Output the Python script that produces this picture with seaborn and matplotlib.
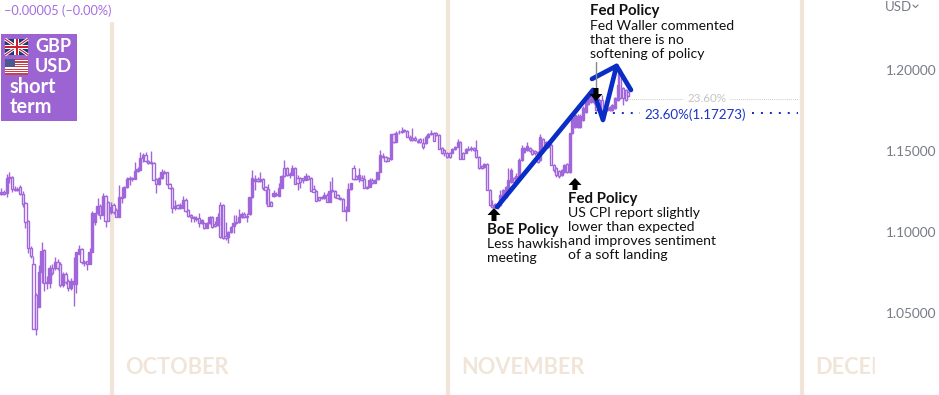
import pandas as pd
import seaborn as sns
import matplotlib
matplotlib.use('Agg')
import matplotlib.pyplot as plt
from matplotlib.patches import Polygon, Rectangle

opens = [1.1229,1.1241,1.1235,1.1328,1.1334,1.1260,1.1254,1.1272,1.1229,1.1174,
1.1063,1.0896,1.0797,1.0606,1.0532,1.0748,1.0884,1.0680,1.0680,1.0772,
1.0772,1.0809,1.0797,1.0668,1.0735,1.0692,1.0649,1.0674,1.0674,1.0859,
1.0890,1.0809,1.0816,1.0797,1.0871,1.1056,1.1112,1.1155,1.1100,1.1217,
1.1180,1.1118,1.1161,1.1130,1.1087,1.1211,1.1211,1.1272,1.1322,1.1322,
1.1322,1.1371,1.1377,1.1451,1.1470,1.1433,1.1426,1.1420,1.1322,1.1291,
1.1328,1.1365,1.1365,1.1291,1.1266,1.1143,1.1161,1.1143,1.1143,1.1192,
1.1130,1.1100,1.1087,1.1081,1.1081,1.1050,1.1050,1.1019,1.1050,1.1087,
1.1044,1.1038,1.1161,1.1161,1.0970,1.0964,1.0995,1.1032,1.1050,1.1056,
1.1087,1.1106,1.1093,1.1106,1.1211,1.1309,1.1322,1.1309,1.1322,1.1272,
1.1260,1.1180,1.1217,1.1229,1.1217,1.1266,1.1389,1.1389,1.1352,1.1346,
1.1389,1.1328,1.1328,1.1328,1.1315,1.1340,1.1328,1.1260,1.1248,1.1211,
1.1211,1.1204,1.1223,1.1180,1.1248,1.1248,1.1223,1.1204,1.1198,1.1130,
1.1124,1.1260,1.1389,1.1340,1.1322,1.1328,1.1322,1.1272,1.1272,1.1315,
1.1297,1.1322,1.1365,1.1464,1.1457,1.1451,1.1445,1.1599,1.1550,1.1612,
1.1612,1.1618,1.1618,1.1581,1.1575,1.1575,1.1556,1.1568,1.1544,1.1544,
1.1581,1.1599,1.1605,1.1605,1.1593,1.1513,1.1500,1.1482,1.1482,1.1482,
1.1507,1.1519,1.1550,1.1482,1.1482,1.1500,1.1507,1.1513,1.1500,1.1457,
1.1402,1.1396,1.1414,1.1254,1.1161,1.1149,1.1161,1.1161,1.1211,1.1211,
1.1254,1.1303,1.1328,1.1303,1.1328,1.1439,1.1488,1.1500,1.1513,1.1500,
1.1494,1.1488,1.1439,1.1568,1.1525,1.1550,1.1531,1.1408,1.1389,1.1371,
1.1346,1.1365,1.1414,1.1365,1.1605,1.1642,1.1642,1.1642,1.1686,1.1735,
1.1784,1.1797,1.1834,1.1809,1.1809,1.1809,1.1760,1.1747,1.1747,1.1747,
1.1760,1.1809,1.1994,1.1883,1.1871,1.1858]

closes = [1.1241,1.1229,1.1328,1.1334,1.1260,1.1254,1.1260,1.1229,1.1167,1.1056,
1.0896,1.0846,1.0396,1.0396,1.0748,1.0877,1.0680,1.0686,1.0772,1.0742,
1.0809,1.0772,1.0668,1.0735,1.0686,1.0649,1.0692,1.0692,1.0871,1.0890,
1.0809,1.0803,1.0797,1.0871,1.1112,1.1112,1.1155,1.1100,1.1217,1.1063,
1.1063,1.1149,1.1118,1.1087,1.1211,1.1204,1.1272,1.1322,1.1328,1.1328,
1.1371,1.1383,1.1451,1.1470,1.1433,1.1420,1.1420,1.1315,1.1291,1.1328,
1.1365,1.1359,1.1291,1.1266,1.1143,1.1155,1.1143,1.1161,1.1192,1.1124,
1.1093,1.1087,1.1081,1.1075,1.1050,1.1069,1.1019,1.1050,1.1087,1.1026,
1.1032,1.1087,1.0964,1.0958,1.0958,1.0995,1.1026,1.1050,1.1056,1.1087,
1.1106,1.1087,1.1087,1.1211,1.1328,1.1322,1.1309,1.1322,1.1266,1.1254,
1.1155,1.1155,1.1235,1.1223,1.1266,1.1340,1.1340,1.1346,1.1346,1.1389,
1.1291,1.1297,1.1303,1.1315,1.1340,1.1322,1.1248,1.1241,1.1186,1.1192,
1.1204,1.1223,1.1180,1.1248,1.1254,1.1211,1.1204,1.1198,1.1124,1.1124,
1.1260,1.1297,1.1322,1.1322,1.1346,1.1315,1.1266,1.1266,1.1315,1.1297,
1.1315,1.1365,1.1470,1.1457,1.1433,1.1433,1.1599,1.1550,1.1605,1.1612,
1.1618,1.1624,1.1581,1.1568,1.1562,1.1562,1.1550,1.1550,1.1519,1.1581,
1.1599,1.1605,1.1556,1.1593,1.1507,1.1482,1.1482,1.1457,1.1457,1.1507,
1.1519,1.1550,1.1445,1.1445,1.1507,1.1507,1.1513,1.1500,1.1457,1.1389,
1.1389,1.1414,1.1254,1.1161,1.1149,1.1167,1.1149,1.1223,1.1254,1.1272,
1.1315,1.1377,1.1303,1.1340,1.1439,1.1513,1.1513,1.1525,1.1494,1.1476,
1.1482,1.1426,1.1581,1.1513,1.1550,1.1519,1.1408,1.1377,1.1346,1.1340,
1.1377,1.1408,1.1365,1.1605,1.1698,1.1716,1.1710,1.1710,1.1760,1.1809,
1.1821,1.1858,1.1797,1.1747,1.1747,1.1747,1.1741,1.1760,1.1766,1.1778,
1.1821,1.1902,1.1821,1.1821,1.1809,1.1834]

highs = [1.1266,1.1254,1.1352,1.1365,1.1340,1.1278,1.1272,1.1285,1.1248,1.1180,
1.1069,1.0908,1.0846,1.0618,1.0791,1.0933,1.0890,1.0723,1.0791,1.0797,
1.0840,1.0828,1.0809,1.0748,1.0748,1.0705,1.0711,1.0840,1.0871,1.0914,
1.0896,1.0822,1.0816,1.0896,1.1124,1.1112,1.1204,1.1167,1.1235,1.1223,
1.1186,1.1180,1.1174,1.1143,1.1285,1.1272,1.1278,1.1334,1.1340,1.1334,
1.1426,1.1396,1.1488,1.1482,1.1488,1.1439,1.1494,1.1426,1.1328,1.1334,
1.1383,1.1377,1.1365,1.1297,1.1272,1.1192,1.1167,1.1174,1.1217,1.1204,
1.1137,1.1106,1.1093,1.1093,1.1112,1.1075,1.1056,1.1056,1.1093,1.1093,
1.1063,1.1112,1.1180,1.1167,1.1056,1.1001,1.1032,1.1100,1.1100,1.1137,
1.1118,1.1118,1.1112,1.1211,1.1377,1.1346,1.1334,1.1365,1.1328,1.1278,
1.1291,1.1186,1.1254,1.1241,1.1297,1.1346,1.1439,1.1396,1.1365,1.1408,
1.1396,1.1346,1.1334,1.1328,1.1359,1.1346,1.1334,1.1285,1.1254,1.1211,
1.1217,1.1241,1.1235,1.1309,1.1334,1.1254,1.1229,1.1211,1.1204,1.1155,
1.1297,1.1297,1.1408,1.1346,1.1389,1.1346,1.1346,1.1278,1.1328,1.1328,
1.1322,1.1365,1.1500,1.1482,1.1464,1.1457,1.1599,1.1605,1.1618,1.1624,
1.1642,1.1630,1.1624,1.1593,1.1636,1.1587,1.1568,1.1575,1.1575,1.1593,
1.1605,1.1624,1.1612,1.1612,1.1599,1.1519,1.1507,1.1488,1.1488,1.1513,
1.1525,1.1568,1.1556,1.1488,1.1513,1.1525,1.1525,1.1519,1.1562,1.1464,
1.1408,1.1420,1.1420,1.1260,1.1192,1.1174,1.1167,1.1254,1.1260,1.1278,
1.1389,1.1389,1.1334,1.1359,1.1451,1.1531,1.1519,1.1550,1.1519,1.1507,
1.1500,1.1494,1.1599,1.1575,1.1556,1.1556,1.1544,1.1414,1.1396,1.1377,
1.1383,1.1414,1.1420,1.1605,1.1704,1.1723,1.1723,1.1723,1.1772,1.1815,
1.1834,1.1871,1.1840,1.1821,1.1821,1.1840,1.1766,1.1766,1.1772,1.1784,
1.1828,1.2019,1.2006,1.1889,1.1877,1.1865]

lows = [1.1223,1.1223,1.1211,1.1297,1.1241,1.1248,1.1248,1.1223,1.1149,1.1019,
1.0865,1.0834,1.0396,1.0359,1.0532,1.0680,1.0631,1.0643,1.0649,1.0729,
1.0760,1.0760,1.0655,1.0655,1.0674,1.0631,1.0637,1.0538,1.0618,1.0859,
1.0797,1.0785,1.0760,1.0797,1.0871,1.1038,1.1100,1.1075,1.1100,1.1026,
1.1063,1.1106,1.1106,1.1087,1.1087,1.1174,1.1204,1.1266,1.1285,1.1309,
1.1322,1.1365,1.1377,1.1426,1.1426,1.1414,1.1414,1.1315,1.1235,1.1285,
1.1322,1.1352,1.1285,1.1260,1.1112,1.1130,1.1137,1.1137,1.1143,1.1118,
1.1087,1.1056,1.1056,1.1063,1.1026,1.1044,1.1013,1.1019,1.1044,1.1019,
1.1026,1.1032,1.0958,1.0951,1.0945,1.0927,1.0989,1.0989,1.1044,1.1050,
1.1081,1.1081,1.1056,1.1100,1.1204,1.1254,1.1303,1.1303,1.1254,1.1167,
1.1155,1.1155,1.1211,1.1217,1.1217,1.1266,1.1334,1.1340,1.1328,1.1346,
1.1291,1.1254,1.1266,1.1297,1.1315,1.1315,1.1248,1.1241,1.1186,1.1186,
1.1198,1.1198,1.1180,1.1180,1.1241,1.1204,1.1198,1.1192,1.1124,1.1063,
1.1124,1.1254,1.1315,1.1315,1.1303,1.1309,1.1266,1.1260,1.1272,1.1291,
1.1297,1.1315,1.1365,1.1451,1.1426,1.1433,1.1439,1.1544,1.1550,1.1599,
1.1605,1.1612,1.1581,1.1556,1.1556,1.1556,1.1544,1.1544,1.1507,1.1538,
1.1575,1.1593,1.1556,1.1587,1.1507,1.1476,1.1464,1.1451,1.1451,1.1482,
1.1500,1.1519,1.1445,1.1445,1.1482,1.1500,1.1494,1.1494,1.1451,1.1383,
1.1383,1.1389,1.1254,1.1155,1.1143,1.1143,1.1137,1.1155,1.1204,1.1204,
1.1248,1.1297,1.1297,1.1297,1.1322,1.1433,1.1482,1.1494,1.1488,1.1470,
1.1470,1.1420,1.1433,1.1507,1.1519,1.1513,1.1408,1.1365,1.1334,1.1328,
1.1340,1.1359,1.1359,1.1359,1.1599,1.1636,1.1636,1.1636,1.1679,1.1729,
1.1778,1.1790,1.1784,1.1741,1.1741,1.1735,1.1729,1.1741,1.1741,1.1741,
1.1753,1.1803,1.1815,1.1778,1.1803,1.1828]

# month starts, in bar numbers
month_names = ['OCTOBER', 'NOVEMBER', 'DECEMBER']
month_bars = [41.5, 167.4, 300.3]

# fib drawing on the right side
wave_bars = [185.8, 221.8, 225.5, 230.6, 236.0]
wave_prices = [1.1149, 1.1871, 1.1686, 1.2019, 1.1871]
wave2_bars = [221.4, 230.6]
wave2_prices = [1.1939, 1.2019]
fib_price = 1.17273
fib_grey_price = 1.1815

price_ticks = [1.20, 1.15, 1.10, 1.05]

PURPLE = '#a066da'
BLUE = '#0a2dc6'
SAND = '#f0e5d8'
FONT = ['Lato', 'DejaVu Sans']

sns.set_style('white')
plt.rcParams['font.family'] = FONT

df = pd.DataFrame({'open': opens, 'close': closes, 'high': highs, 'low': lows})
df['bar'] = df.index
up = df[df.close <= df.open]
down = df[df.close > df.open]

fig = plt.figure(figsize=(9.39, 3.95), dpi=100)
ax = fig.add_axes([0, 0, 1, 1])
ax.set_xlim(-0.56, 351.5)
ax.set_ylim(0.99888, 1.2426)
ax.axis('off')

# month bands sit behind the candles
for m in month_bars:
    ax.axvline(m, color=SAND, lw=3.1, zorder=0)

ax.vlines(df.bar, df.low, df.high, color=PURPLE, lw=1.0, zorder=2)
ax.bar(up.bar, up.open - up.close, bottom=up.close, width=0.8, facecolor='white',
       edgecolor=PURPLE, lw=1.0, zorder=3)
ax.bar(down.bar, down.close - down.open, bottom=down.open, width=0.8, facecolor=PURPLE,
       edgecolor=PURPLE, lw=1.0, zorder=3)

# fib lines
sns.lineplot(x=[233, 255.5], y=[fib_grey_price, fib_grey_price], ax=ax, color='#cfcfcf', lw=0.75,
             linestyle=(0, (1, 1)), zorder=1)
sns.lineplot(x=[273, 298.7], y=[fib_grey_price, fib_grey_price], ax=ax, color='#cfcfcf', lw=0.75,
             linestyle=(0, (1, 1)), zorder=1)
sns.lineplot(x=[222.5, 239.5], y=[fib_price, fib_price], ax=ax, color=BLUE, lw=1.4,
             linestyle=(0, (1, 3.6)), zorder=5)
sns.lineplot(x=[281.5, 298.5], y=[fib_price, fib_price], ax=ax, color=BLUE, lw=1.4,
             linestyle=(0, (1, 3.6)), zorder=5)

sns.lineplot(x=wave_bars, y=wave_prices, ax=ax, color=BLUE, lw=3.4, sort=False, estimator=None, zorder=6)
sns.lineplot(x=wave2_bars, y=wave2_prices, ax=ax, color=BLUE, lw=3.4, sort=False, estimator=None, zorder=6)
ax.set_xlim(-0.56, 351.5)
ax.set_ylim(0.99888, 1.2426)

# everything else is placed in screen pixels
ov = fig.add_axes([0, 0, 1, 1], facecolor='none')
ov.set_xlim(0, 939)
ov.set_ylim(395, 0)
ov.axis('off')

# October band stops under the header row
ov.add_patch(Rectangle((108, 0), 9, 21, color='white', zorder=1))

def arrow(x, tail, tip):
    d = 1 if tip > tail else -1
    head = tip - d * 7
    ov.add_patch(Polygon([(x - 2.5, tail), (x + 2.5, tail), (x + 2.5, head), (x + 6.5, head), (x, tip),
                          (x - 6.5, head), (x - 2.5, head)], color='black', lw=0, zorder=8))

def note(x, y, title, lines):
    ov.text(x, y + 1, title, fontsize=10.8, fontweight='bold', color='#111111', va='center', zorder=9)
    for i, line in enumerate(lines):
        ov.text(x, y + 1 + 14 * (i + 1) + (1 if y < 20 else 0), line, fontsize=10.1, color='#111111', va='center', zorder=9)

arrow(494, 221, 208)
arrow(575, 190, 178)
ov.plot([596, 596], [62, 90], color='#888888', lw=1, zorder=7)
arrow(596, 88, 101)

note(487, 229, 'BoE Policy', ['Less hawkish', 'meeting'])
note(568, 198, 'Fed Policy', ['US CPI report slightly', 'lower than expected',
                              'and improves sentiment', 'of a soft landing'])
note(590, 10, 'Fed Policy', ['Fed Waller commented', 'that there is no', 'softening of policy'])

ov.text(695, 114.5, '23.60%(1.17273)', fontsize=9.6, color='#1a33c8', ha='center', va='center', zorder=9)
ov.text(707, 98.5, '23.60%', fontsize=8.4, color='#c4c4c4', ha='center', va='center', zorder=9)

# month watermarks, the last one runs under the price scale
for name, x in zip(month_names, [125, 461, 815]):
    ov.text(x, 368, name, fontsize=15.7, fontweight='bold', color=SAND, va='center', zorder=1)
ov.add_patch(Rectangle((875, 340), 64, 55, color='white', zorder=2))

# price scale
for p in price_ticks:
    ypx = (1.2426 - p) / 0.000617
    ov.text(886, ypx + 1.5, '%.5f' % p, fontsize=9.8, color='#787b86', va='center', zorder=9)
ov.text(885, 7, 'USD', fontsize=9.5, color='#787b86', va='center', zorder=9)
ov.plot([913, 915.5, 918], [5, 7.5, 5], color='#787b86', lw=0.8, zorder=9)

ov.text(4, 10.5, '\u22120.00005 (\u22120.00%)', fontsize=9.2, color='#a56de0', va='center', zorder=9)

# pair badge
ov.add_patch(Rectangle((1, 34), 76, 87, color='#9c64d2', lw=0, zorder=3))
ov.text(35, 47, 'GBP', fontsize=13, color='white', fontweight='bold', va='center', zorder=5)
ov.text(35, 67, 'USD', fontsize=13, color='white', fontweight='bold', va='center', zorder=5)
ov.text(10, 87, 'short', fontsize=14.4, color='white', fontweight='bold', va='center', zorder=5)
ov.text(10, 107, 'term', fontsize=14.4, color='white', fontweight='bold', va='center', zorder=5)

# union flag
ov.add_patch(Rectangle((5, 39), 23, 16, color='#1f3a7a', lw=0, zorder=4))
ov.plot([5, 28], [39, 55], color='white', lw=2.2, zorder=4, solid_capstyle='butt')
ov.plot([5, 28], [55, 39], color='white', lw=2.2, zorder=4, solid_capstyle='butt')
ov.plot([5, 28], [39, 55], color='#c8202f', lw=0.8, zorder=4, solid_capstyle='butt')
ov.plot([5, 28], [55, 39], color='#c8202f', lw=0.8, zorder=4, solid_capstyle='butt')
ov.add_patch(Rectangle((5, 45), 23, 4, color='white', lw=0, zorder=4))
ov.add_patch(Rectangle((14, 39), 5, 16, color='white', lw=0, zorder=4))
ov.add_patch(Rectangle((5, 46), 23, 2, color='#c8202f', lw=0, zorder=4))
ov.add_patch(Rectangle((15.5, 39), 2, 16, color='#c8202f', lw=0, zorder=4))

# stars and stripes
ov.add_patch(Rectangle((5, 59), 23, 16, color='white', lw=0, zorder=4))
for s in range(0, 7):
    ov.add_patch(Rectangle((5, 59 + s * 2.4), 23, 1.2, color='#c8404a', lw=0, zorder=4))
ov.add_patch(Rectangle((5, 59), 10, 8, color='#4a5a90', lw=0, zorder=4))

fig.savefig('out.png', dpi=100)
